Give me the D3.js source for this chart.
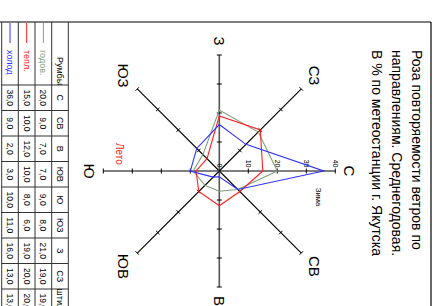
<!DOCTYPE html>
<html>
<head>
<meta charset="utf-8">
<script src="https://cdn.jsdelivr.net/npm/d3@7"></script>
<style>
  body { margin: 0; background: #fff; }
  svg { display: block; font-family: "Liberation Sans", Arial, sans-serif; }
</style>
</head>
<body>
<div id="chart"></div>
<script>
// румбы
const directions = ["С", "СВ", "В", "ЮВ", "Ю", "ЮЗ", "З", "СЗ"];
const tableHeads = ["С", "СВ", "В", "ЮВ", "Ю", "ЮЗ", "З", "СЗ", "штиль"];
const seriesNames = ["годов.", "тепл.", "холод"];
const seriesColors = ["#7fa07f", "#ff2020", "#3030ff"];
// повторяемость, %
const yearValues = [20, 9, 7, 7, 9, 8, 21, 19];
const warmValues = [15, 10, 12, 10, 8, 6, 19, 20];
const coldValues = [36, 9, 2, 3, 10, 11, 16, 13];
const calmValues = [19, 20, 13];
const radialTicks = [0, 10, 20, 30, 40];

const W = 306, H = 437;   // page drawn upright, then turned 90deg
const svg = d3.select("#chart").append("svg")
    .attr("width", H)
    .attr("height", W);
const g = svg.append("g")
    .attr("transform", "translate(" + H + ",0) rotate(90)");

// frame
g.append("line").attr("x1", 22).attr("y1", 6).attr("x2", W + 2).attr("y2", 6)
    .attr("stroke", "#000").attr("stroke-width", 1.2);
g.append("line").attr("x1", 22).attr("y1", 6).attr("x2", 22).attr("y2", H)
    .attr("stroke", "#000").attr("stroke-width", 1.2);

// title
const titleLines = ["Роза повторяемости ветров по", "направлениям. Среднегодовая.", "В % по метеостанции г. Якутска"];
titleLines.forEach(function(t, i){
    g.append("text")
        .attr("x", 50).attr("y", 25 + i * 20)
        .style("font-size", "14px")
        .attr("fill", "#000")
        .text(t);
});

// rose
const cx = 171, cy = 217.7;
const r = d3.scaleLinear().domain([0, 40]).range([0, 116]);
const angle = d3.scalePoint().domain(directions).range([0, 2 * Math.PI * 7 / 8]);
const rose = g.append("g").attr("transform", "translate(" + cx + "," + cy + ")");

directions.forEach(function(d, i){
    let a = angle(d);
    let cardinal = i % 2 === 0;
    let sx = Math.sin(a), sy = -Math.cos(a);
    rose.append("line")
        .attr("x1", 0).attr("y1", 0)
        .attr("x2", sx * r(40)).attr("y2", sy * r(40))
        .attr("stroke", cardinal ? "#555" : "#000")
        .attr("stroke-width", cardinal ? 1.6 : 1.1);
    radialTicks.slice(1).forEach(function(t){
        let px = sx * r(t), py = sy * r(t);
        rose.append("line")
            .attr("x1", px - sy * 2.5).attr("y1", py + sx * 2.5)
            .attr("x2", px + sy * 2.5).attr("y2", py - sx * 2.5)
            .attr("stroke", "#000").attr("stroke-width", 1);
    });
    let lr = cardinal ? 130 : 135;
    rose.append("text")
        .attr("x", sx * lr).attr("y", sy * lr)
        .attr("text-anchor", "middle")
        .attr("dominant-baseline", "central")
        .style("font-size", "15px")
        .text(d);
});

// tick labels on north axis
radialTicks.forEach(function(t){
    rose.append("text")
        .attr("x", -3.5).attr("y", -r(t))
        .attr("text-anchor", "end")
        .attr("dominant-baseline", "central")
        .style("font-size", "7px")
        .text(t);
});

const radial = d3.lineRadial()
    .angle(function(d, i){ return angle(directions[i]); })
    .radius(function(d){ return r(d); })
    .curve(d3.curveLinearClosed);

[yearValues, warmValues, coldValues].forEach(function(vals, k){
    rose.append("path")
        .attr("d", radial(vals))
        .attr("fill", "none")
        .attr("stroke", seriesColors[k])
        .attr("stroke-width", 1.1);
});

rose.append("text").attr("x", 17).attr("y", -99)
    .attr("dominant-baseline", "central")
    .style("font-size", "7.5px").text("Зима");
rose.append("text").attr("x", -28).attr("y", 99.6)
    .attr("dominant-baseline", "central")
    .attr("fill", "#ff2020")
    .style("font-size", "10px").text("Лето");

// table
const rowY = [368.7, 385.3, 402, 418.7, 435.3];
const labelW = 63, colW = 25.5, tx0 = 22;
const colX = function(i){ return tx0 + labelW + i * colW; };
const tbl = g.append("g");
rowY.forEach(function(y){
    tbl.append("line").attr("x1", tx0).attr("x2", W + 2).attr("y1", y).attr("y2", y)
        .attr("stroke", "#333").attr("stroke-width", 1);
});
d3.range(tableHeads.length + 1).forEach(function(i){
    tbl.append("line").attr("x1", colX(i)).attr("x2", colX(i))
        .attr("y1", rowY[0]).attr("y2", rowY[4])
        .attr("stroke", "#333").attr("stroke-width", 1);
});
const rowMid = function(k){ return (rowY[k] + rowY[k + 1]) / 2; };

tbl.append("text").attr("x", 57).attr("y", rowMid(0))
    .attr("dominant-baseline", "central").style("font-size", "9px").text("Румбы");
tableHeads.forEach(function(h, i){
    tbl.append("text").attr("x", colX(i) + colW / 2).attr("y", rowMid(0))
        .attr("text-anchor", "middle").attr("dominant-baseline", "central")
        .style("font-size", "9px").text(h);
});

const allRows = [yearValues, warmValues, coldValues];
allRows.forEach(function(vals, k){
    let y = rowMid(k + 1);
    tbl.append("line").attr("x1", 23).attr("x2", 43).attr("y1", y).attr("y2", y)
        .attr("stroke", seriesColors[k]).attr("stroke-width", 1);
    tbl.append("text").attr("x", 50).attr("y", y)
        .attr("dominant-baseline", "central")
        .attr("fill", seriesColors[k])
        .style("font-size", "9px").text(seriesNames[k]);
    vals.concat([calmValues[k]]).forEach(function(v, i){
        tbl.append("text").attr("x", colX(i) + colW / 2).attr("y", y)
            .attr("text-anchor", "middle").attr("dominant-baseline", "central")
            .style("font-size", "8.5px")
            .text(v.toFixed(1).replace(".", ","));
    });
});
</script>
</body>
</html>
